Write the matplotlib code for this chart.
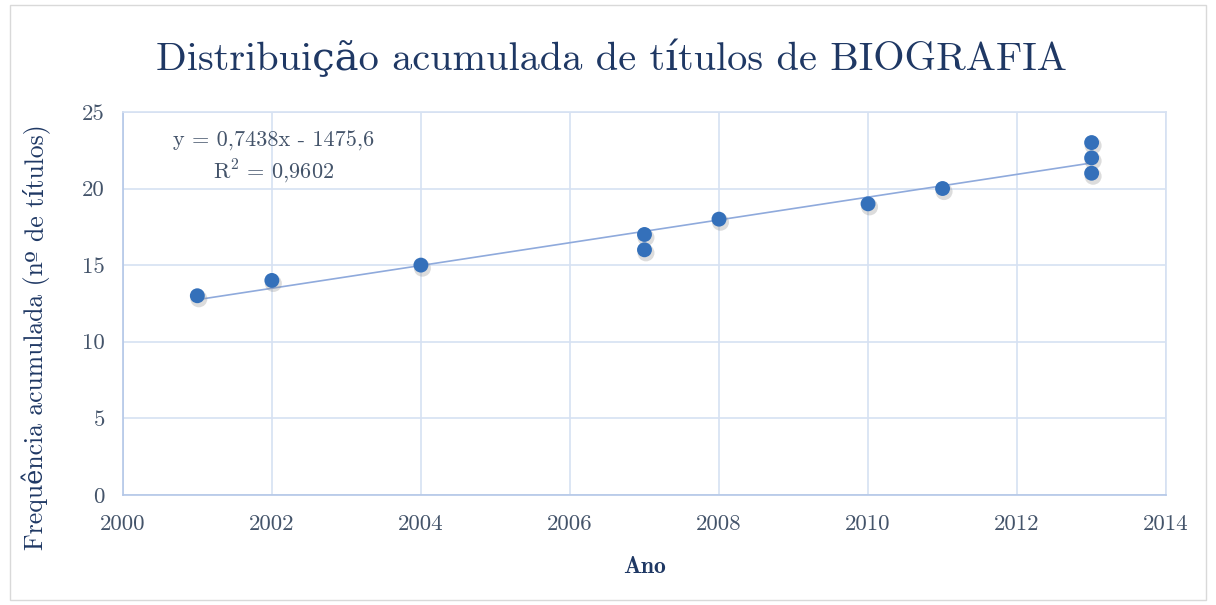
import numpy as np
import matplotlib.pyplot as plt
import matplotlib.transforms as mtransforms
from matplotlib.patches import Rectangle

# dados
anos = [2001, 2002, 2004, 2007, 2007, 2008, 2010, 2011, 2013, 2013, 2013]
freq = [13, 14, 15, 16, 17, 18, 19, 20, 21, 22, 23]
coef_a = 0.7438
coef_b = -1475.6
r2_txt = '0,9602'
xticks = [2000, 2002, 2004, 2006, 2008, 2010, 2012, 2014]
yticks = [0, 5, 10, 15, 20, 25]

serif = ['cmr10', 'DejaVu Serif']
serif_b = ['cmb10', 'cmr10', 'DejaVu Serif']
plt.rcParams['axes.unicode_minus'] = False
plt.rcParams['mathtext.fontset'] = 'cm'

azul_esc = '#1F3864'
azul_tick = '#44546A'
grade = '#D6E1F2'

fig = plt.figure(figsize=(12.16, 6.05), dpi=100)
fig.patches.append(Rectangle((0.008, 0.008), 0.984, 0.984, transform=fig.transFigure,
                             fill=False, edgecolor='#D9D9D9', lw=1))
ax = fig.add_axes([0.101, 0.182, 0.858, 0.633])

# linha de tendência
xl = np.array([min(anos), max(anos)])
ax.plot(xl, coef_a * xl + coef_b, color='#8FAADC', lw=1.2, zorder=2)

# sombra + pontos
ax.scatter(np.array(anos) + 0.02, np.array(freq) - 0.2, s=150, color='#8C8C8C',
           alpha=0.3, edgecolors='none', zorder=3)
ax.scatter(anos, freq, s=115, color='#3470BA', edgecolors='none', zorder=4)

ax.set_xlim(2000, 2014)
ax.set_ylim(0, 25)
ax.set_xticks(xticks)
ax.set_yticks(yticks)
ax.set_xticklabels([str(t) for t in xticks], family=serif, fontsize=16.5, color=azul_tick)
ax.set_yticklabels([str(t) for t in yticks], family=serif, fontsize=16.5, color=azul_tick)
ax.tick_params(axis='x', length=0, pad=14)
ax.tick_params(axis='y', length=0, pad=13)
ax.grid(True, color=grade, lw=1.2)
for s in ax.spines.values():
    s.set_color(grade)
    s.set_linewidth(1.2)
ax.spines['left'].set_color('#B4C7E7')
ax.spines['bottom'].set_color('#B4C7E7')
ax.set_axisbelow(True)

ax.set_xlabel('Ano', family=serif_b, fontsize=17, color=azul_esc, labelpad=16)

# rótulo y em pedaços: o cmr10 não tem o "º" certo
renderer = fig.canvas.get_renderer()
px = mtransforms.IdentityTransform()
fs_y = 18.5
pedacos = [('Frequência acumulada (n', serif), ('º', ['DejaVu Serif']),
           ('de títulos)', serif)]
ta = fig.text(0, 0, 'a a', family=serif, fontsize=fs_y, transform=px)
tb = fig.text(0, 0, 'aa', family=serif, fontsize=fs_y, transform=px)
espaco = ta.get_window_extent(renderer).width - tb.get_window_extent(renderer).width
ta.remove()
tb.remove()
textos = []
for s, fam in pedacos:
    t = fig.text(0, 0, s, family=fam, fontsize=fs_y, color=azul_esc, rotation=90,
                 rotation_mode='anchor', ha='left', va='baseline', transform=px)
    textos.append(t)
comp = [t.get_window_extent(renderer).height for t in textos]
total = sum(comp) + espaco
y_ini = 605 * 0.443 - total / 2
x_base = 1216 * 0.029 + 8
for i, t in enumerate(textos):
    t.set_position((x_base, y_ini))
    y_ini += comp[i] + (espaco if i == 1 else 0)

fig.text(0.503, 0.902, 'Distribuição acumulada de títulos de BIOGRAFIA',
         family=serif, fontsize=29, color=azul_esc, ha='center', va='center')

ax.text(0.145, 0.95, 'y = 0,7438x - 1475,6\nR$^2$ = %s' % r2_txt, transform=ax.transAxes,
        family=serif, fontsize=16, color=azul_tick, ha='center', va='top',
        linespacing=1.3)

fig.savefig('out.png', dpi=100)
